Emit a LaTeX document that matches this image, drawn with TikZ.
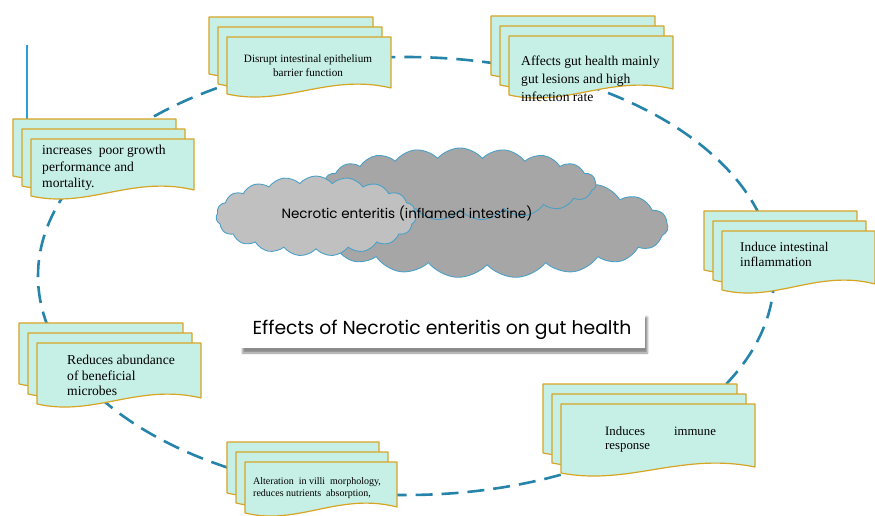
\documentclass[tikz,border=0pt]{standalone}
\usepackage{fontspec}
\setmainfont{Liberation Serif}
\newfontfamily\gothic{Poppins}
\usetikzlibrary{shapes.symbols, shadows.blur}
\definecolor{aquafill}{RGB}{198,239,229}
\definecolor{goldline}{RGB}{214,165,38}
\definecolor{ringblue}{RGB}{38,132,170}
\definecolor{cloudline}{RGB}{75,160,200}
\definecolor{darkcloud}{RGB}{166,166,166}
\definecolor{lightcloud}{RGB}{192,192,192}
\definecolor{thinblue}{RGB}{40,160,220}

% one sheet with a wavy lower edge: left, top, width, height
\newcommand{\docpage}[4]{%
  \filldraw[page] ({#1},{#2}) -- ({#1+#3},{#2}) -- ({#1+#3},{#2+#4-9})
    .. controls ({#1+0.62*#3},{#2+#4-24}) and ({#1+0.35*#3},{#2+#4+10}) .. ({#1},{#2+#4-3}) -- cycle;}
% three sheets, each a little lower and to the right
\newcommand{\docstack}[4]{%
  \docpage{#1}{#2}{#3}{#4}
  \docpage{#1+9}{#2+10}{#3}{#4}
  \docpage{#1+18}{#2+20}{#3}{#4}}

\begin{document}
\begin{tikzpicture}[x=1pt, y=-1pt,
		page/.style={fill=aquafill, draw=goldline, line width=1.2pt, line join=round},
		ring/.style={draw=ringblue, line width=2.6pt, dash pattern=on 17pt off 9pt},
		puff/.style={cloud, cloud puffs=19, cloud puff arc=100, cloud ignores aspect,
			draw=cloudline, line width=0.9pt, inner sep=0pt},
		doctext/.style={anchor=north west, align=left, inner sep=0pt,
			font=\fontsize{13.6}{18}\selectfont}
		]
		\useasboundingbox (0,0) rectangle (875,516);
		
		% dashed ring behind the pages
		\draw[ring] (406,276) ellipse [x radius=368, y radius=219];
		\draw[thinblue, line width=1.2pt] (27,45) -- (27,125);
		
		% clouds
		\node[puff, fill=darkcloud, minimum width=362, minimum height=104] (cloudlow) at (487,226) {};
		\node[puff, fill=darkcloud, minimum width=272, minimum height=72] (cloudtop) at (460,184) {};
		\node[puff, fill=lightcloud, minimum width=200, minimum height=80] (cloudleft) at (316,216) {};
		\node[font=\gothic\fontsize{13.5}{16}\selectfont] (necrotic) at (407,213) {Necrotic enteritis (inflamed intestine)};
		
		% title
		\node[fill=white, minimum width=405, minimum height=36,
			blur shadow={shadow xshift=3pt, shadow yshift=-5pt, shadow opacity=45},
			font=\gothic\fontsize{18.8}{22}\selectfont] (title) at (442,330)
			{Effects of Necrotic enteritis on gut health};
		
		% stacks of pages
		\docstack{209}{17}{164}{60}
		\docstack{491}{16}{164}{62}
		\docstack{13}{119}{163}{60}
		\docstack{704}{211}{153}{62}
		\docstack{19}{323}{164}{64}
		\docstack{543}{384}{194}{72}
		\docstack{227}{442}{152}{54}
		
		\node[doctext, anchor=north, align=center, font=\fontsize{11.2}{13.5}\selectfont] (barrier) at (308,55)
			{Disrupt intestinal epithelium\\ barrier function};
		\node[doctext] (lesions) at (521,56) {Affects gut health mainly\\ gut lesions and high\\ infection rate};
		\node[doctext, font=\fontsize{13.6}{16.5}\selectfont] (growth) at (42,145) {increases\ \ poor growth\\ performance and\\ mortality.};
		\node[doctext, font=\fontsize{13.3}{15.5}\selectfont] (inflam) at (740,242) {Induce intestinal\\ inflammation};
		\node[doctext, font=\fontsize{13.6}{15.5}\selectfont] (microbes) at (67,355) {Reduces abundance\\ of beneficial\\ microbes};
		\node[doctext, font=\fontsize{12.8}{14}\selectfont] (immune) at (605,426) {Induces\hspace{29pt}immune\\ response};
		\node[doctext, font=\fontsize{10}{12.5}\selectfont] (villi) at (253,477) {Alteration\ \ in villi\ \ morphology,\\ reduces nutrients\ \ absorption,};
	\end{tikzpicture}
\end{document}
